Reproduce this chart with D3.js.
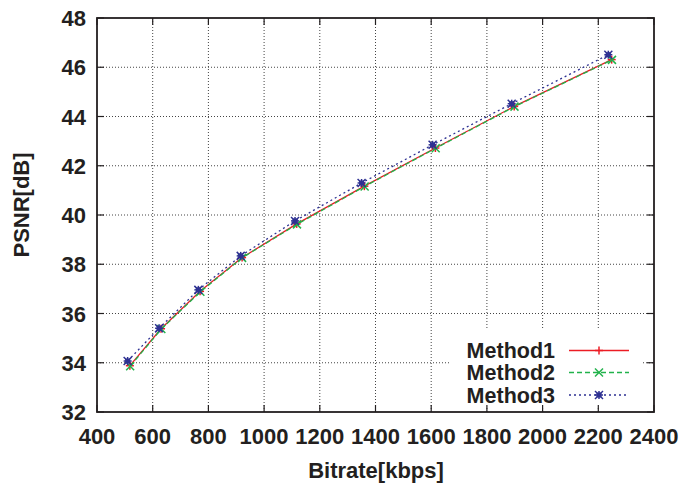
<!DOCTYPE html>
<html><head><meta charset="utf-8">
<script src="https://cdn.jsdelivr.net/npm/d3@7"></script>
<style>body{margin:0;background:#fff}svg{display:block}text{font-family:"Liberation Sans",Arial,sans-serif;font-weight:bold;fill:#231f20}</style>
</head><body><svg id="c" width="685" height="483"></svg>
<script>
const xTicks = [400,600,800,1000,1200,1400,1600,1800,2000,2200,2400];
const yTicks = [32,34,36,38,40,42,44,46,48];
const seriesNames = ["Method1","Method2","Method3"];
const bitrate1 = [518, 630, 770, 921, 1117, 1360, 1615, 1898, 2248];
const psnr1 = [33.88, 35.38, 36.90, 38.27, 39.64, 41.17, 42.72, 44.41, 46.31];
const bitrate2 = [519, 631, 771, 921, 1118, 1361, 1616, 1899, 2249];
const psnr2 = [33.86, 35.37, 36.88, 38.26, 39.62, 41.16, 42.71, 44.40, 46.30];
const bitrate3 = [510, 623, 764, 916, 1111, 1350, 1605, 1889, 2236];
const psnr3 = [34.07, 35.40, 36.96, 38.34, 39.76, 41.30, 42.85, 44.52, 46.51];

const svg = d3.select("#c");
const L=97,R=654,T=18,B=412;
const x = d3.scaleLinear().domain([400,2400]).range([L,R]);
const y = d3.scaleLinear().domain([32,48]).range([B,T]);

// grid
const g = svg.append("g");
g.selectAll(".gx").data(xTicks.slice(1,-1)).join("line")
 .attr("x1",d=>x(d)).attr("x2",d=>x(d)).attr("y1",T).attr("y2",B)
 .attr("stroke","#444").attr("stroke-width",1).attr("stroke-dasharray","1,2");
g.selectAll(".gy").data(yTicks.slice(1,-1)).join("line")
 .attr("y1",d=>y(d)).attr("y2",d=>y(d)).attr("x1",L).attr("x2",R)
 .attr("stroke","#444").attr("stroke-width",1).attr("stroke-dasharray","1,2");

// legend background
svg.append("rect").attr("x",449).attr("y",330).attr("width",193).attr("height",76).attr("fill","#fff");

// ticks (inward, all sides)
const tk=7;
const tg = svg.append("g").attr("stroke","#231f20").attr("stroke-width",1.2);
xTicks.forEach(d=>{
  tg.append("line").attr("x1",x(d)).attr("x2",x(d)).attr("y1",B).attr("y2",B-tk);
  tg.append("line").attr("x1",x(d)).attr("x2",x(d)).attr("y1",T).attr("y2",T+tk);
});
yTicks.forEach(d=>{
  tg.append("line").attr("y1",y(d)).attr("y2",y(d)).attr("x1",L).attr("x2",L+tk);
  tg.append("line").attr("y1",y(d)).attr("y2",y(d)).attr("x1",R).attr("x2",R-tk);
});

// tick labels
svg.append("g").selectAll("text").data(xTicks).join("text")
 .attr("x",d=>x(d)).attr("y",444).attr("text-anchor","middle").attr("font-size",22).text(d=>d);
svg.append("g").selectAll("text").data(yTicks).join("text")
 .attr("x",86).attr("y",d=>y(d)+8).attr("text-anchor","end").attr("font-size",22).text(d=>d);

// axis labels
svg.append("text").attr("x",376).attr("y",478).attr("text-anchor","middle").attr("font-size",22).text("Bitrate[kbps]");
svg.append("text").attr("transform","translate(29,205) rotate(-90)").attr("text-anchor","middle").attr("font-size",22).text("PSNR[dB]");

// series
const colors = ["#ec1c24","#21b24b","#2e3192"];
const dashes = [null,"5,3","2,3"];
const data = [
  d3.zip(bitrate1,psnr1), d3.zip(bitrate2,psnr2), d3.zip(bitrate3,psnr3)
];
const line = d3.line().x(d=>x(d[0])).y(d=>y(d[1]));
function marker(sel,i,cx,cy){
  const s=4, c=colors[i];
  const m = sel.append("g").attr("stroke",c).attr("stroke-width",1.5).attr("fill","none");
  if(i===0||i===2){
    m.append("line").attr("x1",cx-s).attr("x2",cx+s).attr("y1",cy).attr("y2",cy);
    m.append("line").attr("x1",cx).attr("x2",cx).attr("y1",cy-s).attr("y2",cy+s);
  }
  if(i===1||i===2){
    m.append("line").attr("x1",cx-s).attr("x2",cx+s).attr("y1",cy-s).attr("y2",cy+s);
    m.append("line").attr("x1",cx-s).attr("x2",cx+s).attr("y1",cy+s).attr("y2",cy-s);
  }
  if(i===2){
    m.append("rect").attr("x",cx-2.5).attr("y",cy-2.5).attr("width",5).attr("height",5).attr("fill",c).attr("stroke","none");
  }
}
data.forEach((ds,i)=>{
  svg.append("path").attr("d",line(ds)).attr("fill","none").attr("stroke",colors[i])
    .attr("stroke-width",1.3).attr("stroke-dasharray",dashes[i]);
  const mg = svg.append("g");
  ds.forEach(d=>marker(mg,i,x(d[0]),y(d[1])));
});

// border
svg.append("rect").attr("x",L).attr("y",T).attr("width",R-L).attr("height",B-T)
 .attr("fill","none").attr("stroke","#231f20").attr("stroke-width",1.8);

// legend
const ly=[350.5,372.5,395];
seriesNames.forEach((n,i)=>{
  svg.append("text").attr("x",555).attr("y",ly[i]+7.5).attr("text-anchor","end").attr("font-size",21.5).text(n);
  svg.append("line").attr("x1",569).attr("x2",629).attr("y1",ly[i]).attr("y2",ly[i])
    .attr("stroke",colors[i]).attr("stroke-width",1.3).attr("stroke-dasharray",dashes[i]);
  marker(svg,i,599,ly[i]);
});
</script></body></html>
